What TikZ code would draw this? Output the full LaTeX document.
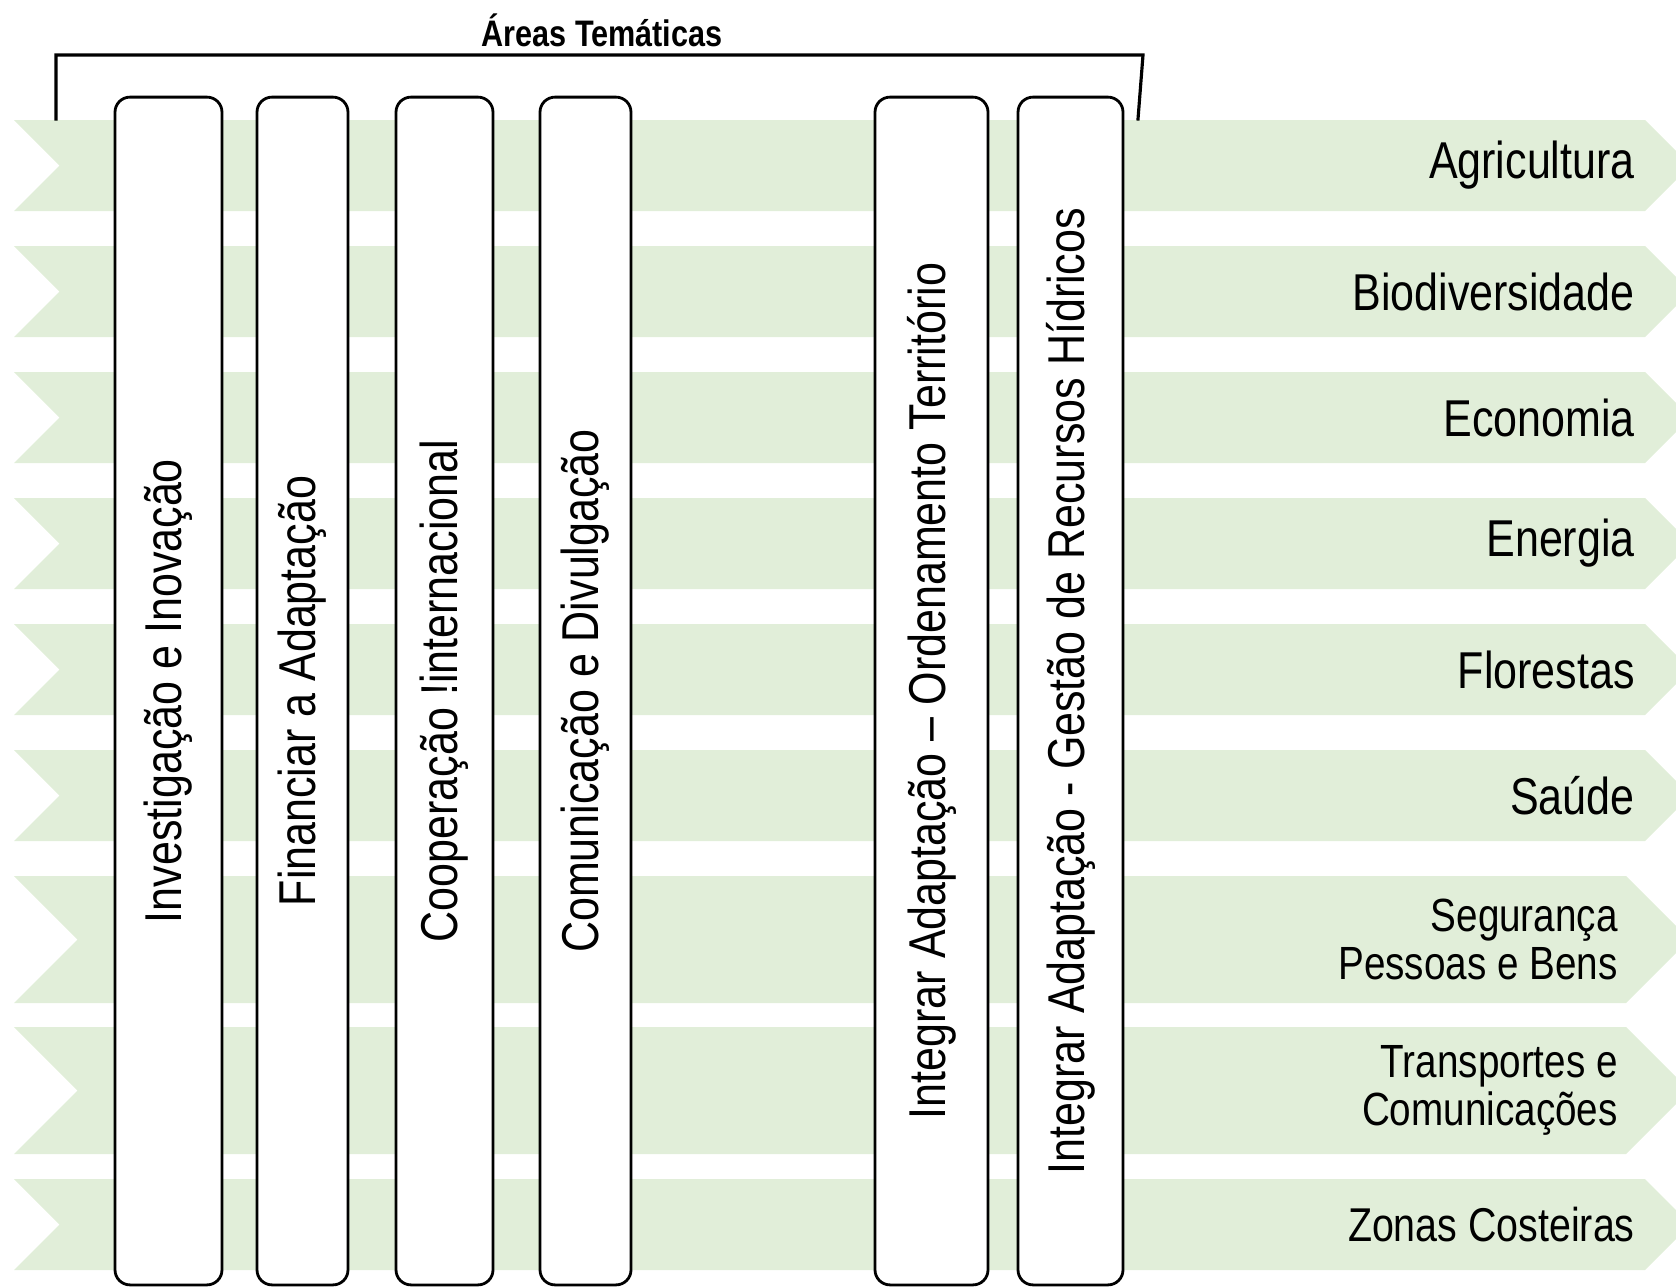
\documentclass[tikz,border=0pt]{standalone}
\usepackage{fontspec}
\setmainfont[FakeStretch=0.83]{Liberation Sans}
\usepackage{tikz}
\usetikzlibrary{positioning}
\definecolor{bandgreen}{RGB}{225,238,217}
\tikzset{
themebox/.style={
  rectangle,
  rounded corners=0.3cm,
  line width=1.6pt,
  draw=black,
  fill=white,
  rotate=90,
  minimum width=23.76cm,
  inner sep=0pt,
  align=center,
  font=\fontsize{29.5}{34}\selectfont,
  }
}
\tikzset{
sectorlabel/.style={
  anchor=east,
  inner sep=0pt,
  align=right,
  font=\fontsize{29.5}{34}\selectfont,
  }
}
\tikzset{
bracketline/.style={
  line width=1.8pt,
  line cap=rect,
  }
}

\begin{document}
\begin{tikzpicture}[x=0.02cm,y=0.02cm]
    \useasboundingbox (0,0) rectangle (1676,-1286);

    % sector bands
    \foreach \yt/\hh/\xr in {120/91/1645,246/91/1645,372/91/1645,498/91/1645,624/91/1645,750/91/1645,876/127/1626,1027/127/1626,1179/91/1645}
      \fill[bandgreen] (14,-\yt) -- (\xr,-\yt) -- ({\xr+\hh/2},{-\yt-\hh/2}) -- (\xr,{-\yt-\hh})
        -- (14,{-\yt-\hh}) -- ({14+\hh/2},{-\yt-\hh/2}) -- cycle;

    % sector labels
    \node[sectorlabel] (agri) at (1635,-165.5) {Agricultura};
    \node[sectorlabel] (bio) at (1635,-291.5) {Biodiversidade};
    \node[sectorlabel] (eco) at (1635,-417.5) {Economia};
    \node[sectorlabel] (ene) at (1635,-543.5) {Energia};
    \node[sectorlabel] (flo) at (1635,-669.5) {Florestas};
    \node[sectorlabel] (sau) at (1635,-795.5) {Saúde};
    \node[sectorlabel, font=\fontsize{26.5}{27.5}\selectfont] (seg) at (1618,-939.5) {Segurança\\Pessoas e Bens};
    \node[sectorlabel, font=\fontsize{26.5}{27.5}\selectfont] (tra) at (1618,-1090.5) {Transportes e\\Comunicações};
    \node[sectorlabel, font=\fontsize{27}{32}\selectfont] (zon) at (1635,-1224.5) {Zonas Costeiras};

    % thematic columns
    \node[themebox, minimum height=2.14cm] (inv) at (168.5,-691) {Investigação e Inovação};
    \node[themebox, minimum height=1.82cm] (fin) at (302.5,-691) {Financiar a Adaptação};
    \node[themebox, minimum height=1.94cm] (coop) at (444.5,-691) {Cooperação !internacional};
    \node[themebox, minimum height=1.82cm] (com) at (585.5,-691) {Comunicação e Divulgação};
    \node[themebox, minimum height=2.26cm] (ord) at (931.5,-691) {Integrar Adaptação – Ordenamento Território};
    \node[themebox, minimum height=2.10cm] (hid) at (1070.5,-691) {Integrar Adaptação - Gestão de Recursos Hídricos};

    % bracket and title
    \node[font=\bfseries\fontsize{21}{25}\selectfont] (areas) at (602,-30) {Áreas Temáticas};
    \coordinate (brl) at (56,-119);
    \coordinate (brr) at (1138,-119);
    \draw[bracketline] (brl) -- (56,-55) -- (1143,-55) -- (brr);
\end{tikzpicture}
\end{document}
